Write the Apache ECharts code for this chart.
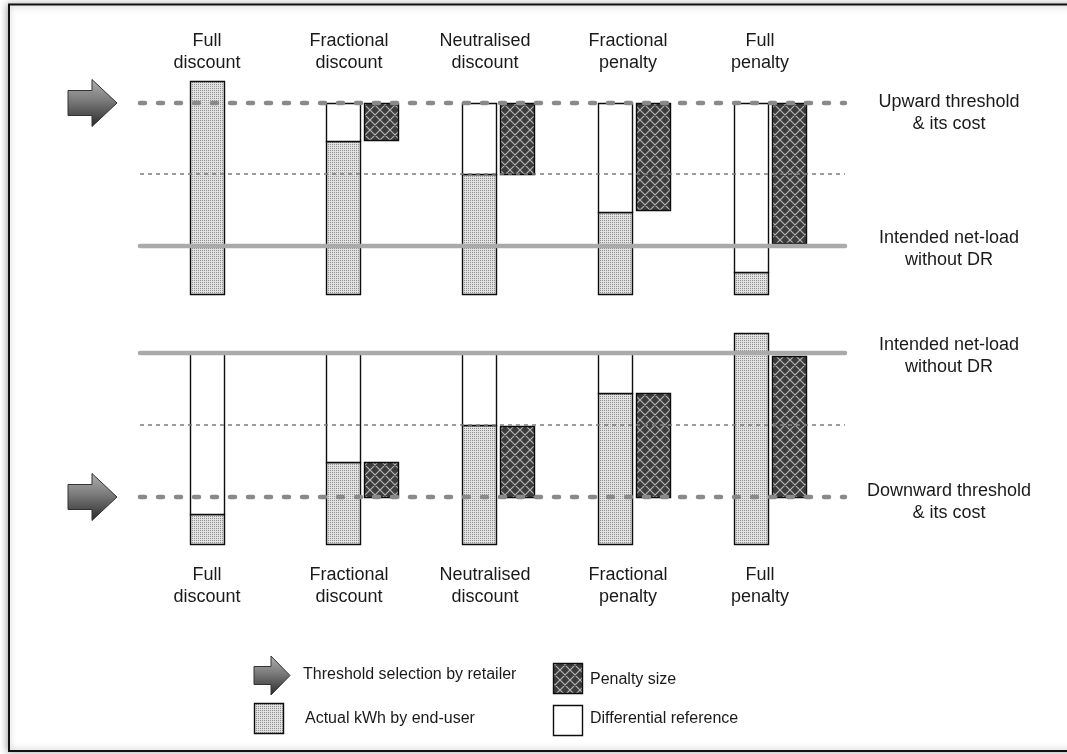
<!DOCTYPE html>
<html><head><meta charset="utf-8">
<script src="https://cdn.jsdelivr.net/npm/echarts@6/dist/echarts.min.js"></script>
<style>html,body{margin:0;padding:0;background:#fff}#c{width:1067px;height:754px}</style>
</head><body><div id="c"></div>
<script>
// ---------------- DATA ----------------
const categories = ['Full\ndiscount', 'Fractional\ndiscount', 'Neutralised\ndiscount', 'Fractional\npenalty', 'Full\npenalty'];
// Upward panel (intended net-load = 0, upward threshold = 100)
const upLevels = [100, 50, 0];                 // threshold, mid reference, intended
const upBase = -34;
const upActual = [115, 73, 50, 24, -18];       // actual kWh top
const upPenaltyLow = [null, 74, 50, 25, 2];     // penalty box lower end (upper end = threshold)
// Downward panel (intended net-load = 0, downward threshold = -100)
const downLevels = [0, -50, -100];             // intended, mid reference, threshold
const downBase = -133;
const downActual = [-112, -76, -50, -28, 14];
const downPenaltyHigh = [null, -76, -51, -28, -2]; // penalty box upper end (lower end = threshold)
const rightLabels = ['Upward threshold\n& its cost', 'Intended net-load\nwithout DR', 'Intended net-load\nwithout DR', 'Downward threshold\n& its cost'];
const legendTexts = ['Threshold selection by retailer', 'Actual kWh by end-user', 'Penalty size', 'Differential reference'];

// ---------------- LAYOUT / STYLE ----------------
const FONT = '"Liberation Sans", Arial, Helvetica, sans-serif';
const BAR_W = 34, PEN_DX = 38;
const LABEL_DX = [0, 6, 6, 13, 9];
const TEXT_COLOR = '#1a1a1a';
const BORDER = '#0d0d0d';

function makeStipple() {
  const c = document.createElement('canvas'); c.width = 2; c.height = 2;
  const g = c.getContext('2d');
  g.fillStyle = '#e2e2e2'; g.fillRect(0, 0, 2, 2);
  g.fillStyle = '#8e8e8e'; g.fillRect(0, 0, 1, 1);
  return c;
}
function makeHatch() {
  const s = 10;
  const c = document.createElement('canvas'); c.width = s; c.height = s;
  const g = c.getContext('2d');
  g.fillStyle = '#3c3c3c'; g.fillRect(0, 0, s, s);
  g.strokeStyle = '#b4b4b4'; g.lineWidth = 1.2;
  g.beginPath();
  for (let k = -1; k <= 1; k++) {
    g.moveTo(k * s, 0); g.lineTo(k * s + s, s);
    g.moveTo(k * s + s, 0); g.lineTo(k * s, s);
  }
  g.stroke();
  return c;
}
const STIPPLE = { image: makeStipple(), repeat: 'repeat' };
const HATCH = { image: makeHatch(), repeat: 'repeat' };
const ARROW_FILL = new echarts.graphic.LinearGradient(0, 0, 0, 1, [
  { offset: 0, color: '#b0b0b0' }, { offset: 0.45, color: '#7a7a7a' }, { offset: 1, color: '#2a2a2a' }]);

// ---------------- BUILD DATA ----------------
const upActualData = upActual.map((v, i) => [i, upBase, v]);
const upRefData = upActual.map((v, i) => [i, v, upLevels[0]]).filter(d => d[1] < d[2]);
const upPenData = upPenaltyLow.map((v, i) => v === null ? null : [i, v, upLevels[0]]).filter(Boolean);
const downActualData = downActual.map((v, i) => [i, downBase, v]);
const downRefData = downActual.map((v, i) => [i, v, downLevels[0]]).filter(d => d[1] < d[2]);
const downPenData = downPenaltyHigh.map((v, i) => v === null ? null : [i, downLevels[2], v]).filter(Boolean);

function rectRender(dx, fill) {
  return function (params, api) {
    const x = api.value(0);
    const p1 = api.coord([x, api.value(2)]);
    const p2 = api.coord([x, api.value(1)]);
    return {
      type: 'rect',
      shape: { x: Math.round(p1[0] + dx - BAR_W / 2) + 0.5, y: Math.round(p1[1]) + 0.5, width: BAR_W, height: Math.round(p2[1]) - Math.round(p1[1]) },
      style: { fill: fill, stroke: BORDER, lineWidth: 1.4 }
    };
  };
}

const LINE_STYLES = {
  threshold: { stroke: '#898989', lineWidth: 4.5, lineDash: [5, 13], lineCap: 'round' },
  mid: { stroke: '#7c7c7c', lineWidth: 1.7, lineDash: [4, 4] },
  intended: { stroke: '#aaaaaa', lineWidth: 4.5, lineCap: 'round' }
};
const LINE_X0 = 140, LINE_X1 = 845, RIGHT_X = 949;

// level data: [value, kind, labelIndex(-1 none), labelDy, arrow(0/1)]
const upLevelData = [[upLevels[0], 'threshold', 0, 10, 1], [upLevels[1], 'mid', -1, 0, 0], [upLevels[2], 'intended', 1, 3, 0]];
const downLevelData = [[downLevels[0], 'intended', 2, 3, 0], [downLevels[1], 'mid', -1, 0, 0], [downLevels[2], 'threshold', 3, 5.5, 1]];

function arrowPoints(x0, cy, bodyLen, len, bodyH, headH) {
  return [[x0, cy - bodyH / 2], [x0 + bodyLen, cy - bodyH / 2], [x0 + bodyLen, cy - headH / 2], [x0 + len, cy],
    [x0 + bodyLen, cy + headH / 2], [x0 + bodyLen, cy + bodyH / 2], [x0, cy + bodyH / 2]];
}

function levelRender(params, api) {
  const d = params.dataIndex;
  const src = params.seriesName === 'upLevels' ? upLevelData : downLevelData;
  const item = src[d];
  const y = Math.round(api.coord([0, item[0]])[1]);
  const children = [{
    type: 'line', shape: { x1: LINE_X0, y1: y, x2: LINE_X1, y2: y }, style: LINE_STYLES[item[1]]
  }];
  if (item[2] >= 0) {
    children.push({
      type: 'text', x: RIGHT_X, y: y + item[3],
      style: { text: rightLabels[item[2]], fill: TEXT_COLOR, font: '18px ' + FONT, align: 'center', verticalAlign: 'middle', lineHeight: 22 }
    });
  }
  if (item[4]) {
    children.push({
      type: 'polygon', shape: { points: arrowPoints(68, y, 24, 49, 25, 47) },
      style: { fill: ARROW_FILL, stroke: '#333', lineWidth: 1 }
    });
  }
  return { type: 'group', children };
}

function catLabelRender(centerY) {
  return function (params, api) {
    const i = api.value(0);
    const p = api.coord([i, 0]);
    return {
      type: 'text', x: p[0] + LABEL_DX[i], y: centerY,
      style: { text: categories[i], fill: TEXT_COLOR, font: '18px ' + FONT, align: 'center', verticalAlign: 'middle', lineHeight: 22 }
    };
  };
}

const chart = echarts.init(document.getElementById('c'), null, { renderer: 'canvas' });
const xAx = { type: 'value', min: -0.5, max: -0.5 + 706 / 136, show: false };
chart.setOption({
  animation: false,
  backgroundColor: '#fff',
  grid: [
    { left: 139, top: 60, width: 706, height: 243 },
    { left: 139, top: 324, width: 706, height: 230 }
  ],
  xAxis: [Object.assign({ gridIndex: 0 }, xAx), Object.assign({ gridIndex: 1 }, xAx)],
  yAxis: [
    { type: 'value', gridIndex: 0, min: -40, max: 130, show: false },
    { type: 'value', gridIndex: 1, min: -140, max: 20, show: false }
  ],
  graphic: [
    { type: 'rect', z: -10, shape: { x: 9, y: 4.5, width: 1070, height: 746.5 },
      style: { fill: '#fff', stroke: '#111', lineWidth: 2, shadowBlur: 7, shadowColor: 'rgba(0,0,0,0.35)', shadowOffsetX: -1, shadowOffsetY: 0 } },
    // legend
    { type: 'polygon', shape: { points: arrowPoints(254, 675.5, 17, 36, 18, 39) }, style: { fill: ARROW_FILL, stroke: '#333', lineWidth: 1 } },
    { type: 'text', x: 303, y: 675, style: { text: legendTexts[0], fill: TEXT_COLOR, font: '16px ' + FONT, verticalAlign: 'middle' } },
    { type: 'rect', shape: { x: 254.5, y: 703.5, width: 29, height: 30 }, style: { fill: STIPPLE, stroke: BORDER, lineWidth: 1.4 } },
    { type: 'text', x: 305, y: 719, style: { text: legendTexts[1], fill: TEXT_COLOR, font: '16px ' + FONT, verticalAlign: 'middle' } },
    { type: 'rect', shape: { x: 553.5, y: 663.5, width: 29, height: 30 }, style: { fill: HATCH, stroke: BORDER, lineWidth: 1.4 } },
    { type: 'text', x: 590, y: 680, style: { text: legendTexts[2], fill: TEXT_COLOR, font: '16px ' + FONT, verticalAlign: 'middle' } },
    { type: 'rect', shape: { x: 553.5, y: 705.5, width: 29, height: 30 }, style: { fill: '#fff', stroke: BORDER, lineWidth: 1.4 } },
    { type: 'text', x: 590, y: 719, style: { text: legendTexts[3], fill: TEXT_COLOR, font: '16px ' + FONT, verticalAlign: 'middle' } }
  ],
  series: [
    { type: 'custom', name: 'upActual', xAxisIndex: 0, yAxisIndex: 0, z: 2, renderItem: rectRender(0, STIPPLE), data: upActualData },
    { type: 'custom', name: 'upRef', xAxisIndex: 0, yAxisIndex: 0, z: 2, renderItem: rectRender(0, '#fff'), data: upRefData },
    { type: 'custom', name: 'upPen', xAxisIndex: 0, yAxisIndex: 0, z: 2, renderItem: rectRender(PEN_DX, HATCH), data: upPenData },
    { type: 'custom', name: 'upLevels', xAxisIndex: 0, yAxisIndex: 0, z: 5, renderItem: levelRender, data: upLevelData.map(d => [0, d[0]]) },
    { type: 'custom', name: 'upCats', xAxisIndex: 0, yAxisIndex: 0, z: 5, renderItem: catLabelRender(52), data: categories.map((c, i) => [i]) },
    { type: 'custom', name: 'downActual', xAxisIndex: 1, yAxisIndex: 1, z: 2, renderItem: rectRender(0, STIPPLE), data: downActualData },
    { type: 'custom', name: 'downRef', xAxisIndex: 1, yAxisIndex: 1, z: 2, renderItem: rectRender(0, '#fff'), data: downRefData },
    { type: 'custom', name: 'downPen', xAxisIndex: 1, yAxisIndex: 1, z: 2, renderItem: rectRender(PEN_DX, HATCH), data: downPenData },
    { type: 'custom', name: 'downLevels', xAxisIndex: 1, yAxisIndex: 1, z: 5, renderItem: levelRender, data: downLevelData.map(d => [0, d[0]]) },
    { type: 'custom', name: 'downCats', xAxisIndex: 1, yAxisIndex: 1, z: 5, renderItem: catLabelRender(586), data: categories.map((c, i) => [i]) }
  ]
});
</script></body></html>
